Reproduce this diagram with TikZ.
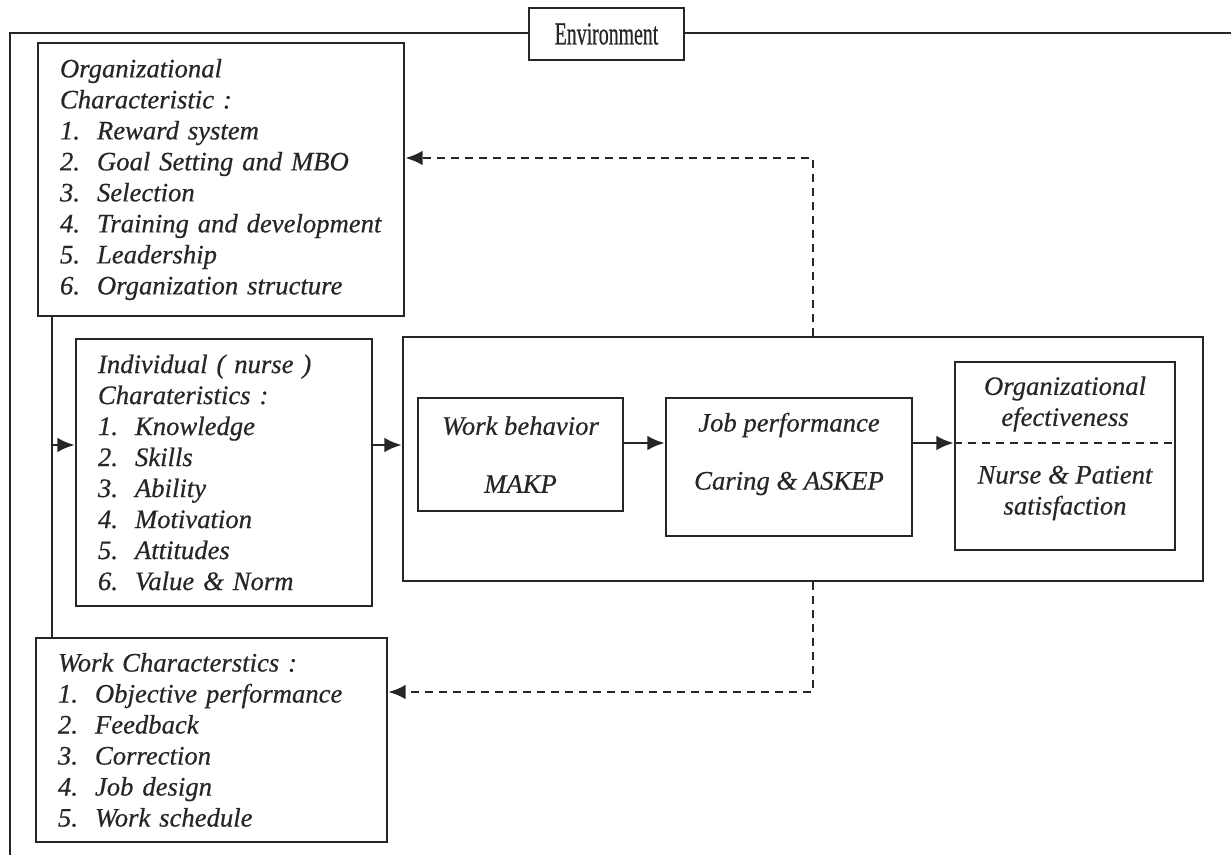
\documentclass[tikz,border=0pt]{standalone}
\usepackage{fontspec}
\setmainfont{Liberation Serif}[FakeBold=0.5]
\newfontfamily\envfont[FakeStretch=0.62,FakeBold=0.5]{Liberation Serif}
\usetikzlibrary{arrows.meta}
\definecolor{ink}{RGB}{38,38,38}
\newcommand{\itm}[2]{\mbox{\makebox[27.75pt][l]{#1}#2}}
\newcommand{\txtfont}{\fontsize{20pt}{23.25pt}\selectfont\itshape}
\begin{document}
\begin{tikzpicture}[x=0.75pt, y=-0.75pt, line width=1.9pt, draw=ink, color=ink,
  box/.style={draw, rectangle, inner sep=0pt},
  listbox/.style={box, align=left, inner xsep=16.5pt, inner ysep=0pt, font=\txtfont},
  lbl/.style={align=center, inner sep=0pt, font=\txtfont},
  arr/.style={-{Latex[length=13pt,width=11pt]}},
  fb/.style={arr, dash pattern=on 6pt off 4.5pt},
  divider/.style={dash pattern=on 6pt off 4.5pt}]
\useasboundingbox (0,0) rectangle (1231,855);

% Environment frame
\node[box, minimum width=116.25pt, minimum height=39pt,
      font=\envfont\fontsize{24pt}{26pt}\selectfont] (env) at (606.5,34) {Environment};
\coordinate (tl) at (10,33);
\coordinate (bl) at (10,855);
\coordinate (tr) at (1231,33);
\draw (env.west |- tl) -- (tl) -- (bl);
\draw (env.east |- tl) -- (tr);

% Left column boxes
\node[listbox, text width=241.5pt, minimum height=204.75pt] (org) at (221,179.5) {%
Organizational\\
Characteristic :\\
\itm{1.}{Reward system}\\
\itm{2.}{Goal Setting and MBO}\\
\itm{3.}{Selection}\\
\itm{4.}{Training and development}\\
\itm{5.}{Leadership}\\
\itm{6.}{Organization structure}};

\node[listbox, text width=189pt, minimum height=200.25pt] (ind) at (224,472.5) {%
Individual ( nurse )\\
Charateristics :\\
\itm{1.}{Knowledge}\\
\itm{2.}{Skills}\\
\itm{3.}{Ability}\\
\itm{4.}{Motivation}\\
\itm{5.}{Attitudes}\\
\itm{6.}{Value \& Norm}};

\node[listbox, text width=230.25pt, minimum height=153pt] (work) at (211.5,740) {%
Work Characterstics :\\
\itm{1.}{Objective performance}\\
\itm{2.}{Feedback}\\
\itm{3.}{Correction}\\
\itm{4.}{Job design}\\
\itm{5.}{Work schedule}};

% Central block
\node[box, minimum width=600pt, minimum height=183pt] (big) at (803,459) {};
\node[box, lbl, minimum width=153.75pt, minimum height=84.75pt] (wb) at (520.5,454.5)
  {Work behavior\\[20.25pt]MAKP};
\node[box, minimum width=184.5pt, minimum height=103.5pt] (job) at (789,467) {};
\node[lbl] (jobt) at (789,454) {Job performance\\[20.25pt]Caring \& ASKEP};
\node[box, minimum width=165pt, minimum height=141pt] (oe) at (1065,456) {};
\node[lbl] (oet) at (1065,404) {Organizational\\efectiveness};
\node[lbl] (oeb) at (1065,493) {Nurse \& Patient\\satisfaction};

% Connectors
\coordinate (sp) at (52,445);
\draw (sp |- org.south) -- (sp |- work.north);
\draw[arr] (sp) -- (sp -| ind.west);
\draw[arr] (sp -| ind.east) -- (sp -| big.west);
\coordinate (m) at (0,443);
\draw[arr] (m -| wb.east) -- (m -| job.west);
\draw[arr] (m -| job.east) -- (m -| oe.west);
\draw[divider] (m -| oe.west) -- (m -| oe.east);

\coordinate (fu) at (813,158);
\coordinate (fd) at (813,692);
\draw[fb] (fu |- big.north) -- (fu) -- (fu -| org.east);
\draw[fb] (fd |- big.south) -- (fd) -- (fd -| work.east);
\end{tikzpicture}
\end{document}
